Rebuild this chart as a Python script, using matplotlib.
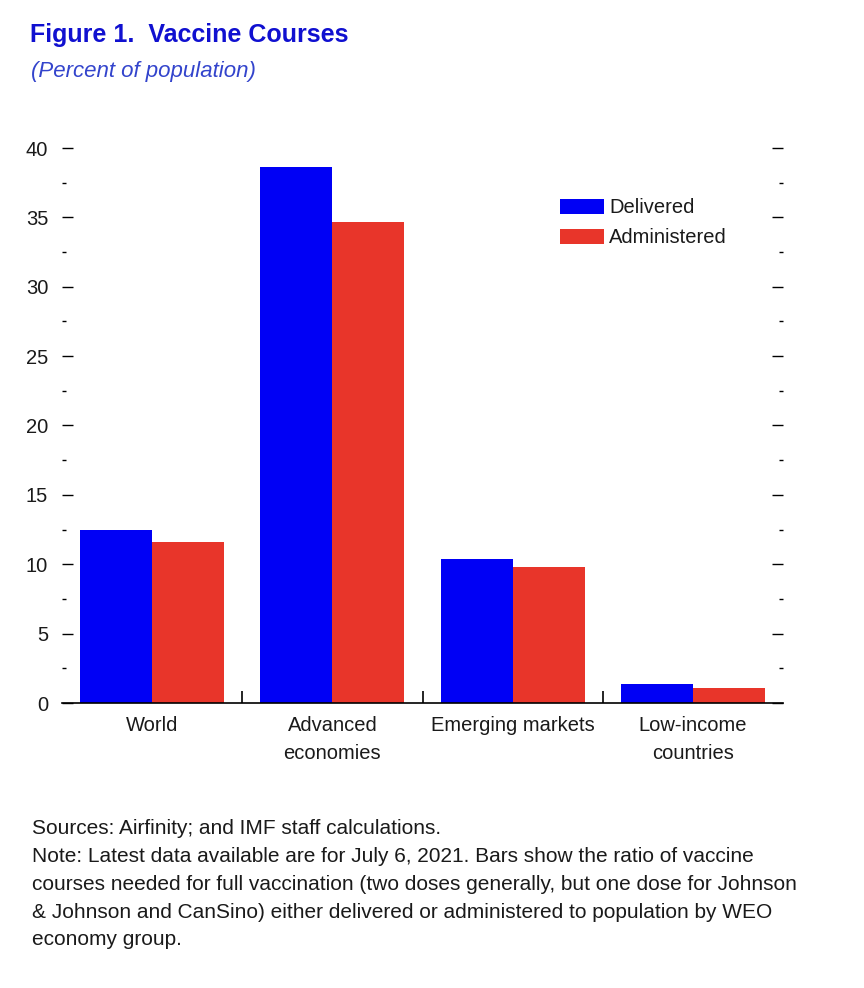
import matplotlib
matplotlib.use("Agg")
import matplotlib.pyplot as plt
import numpy as np
from matplotlib.ticker import MultipleLocator, FixedLocator

categories = ["World", "Advanced\neconomies", "Emerging markets", "Low-income\ncountries"]
delivered = [12.5, 38.6, 10.4, 1.4]
administered = [11.6, 34.7, 9.8, 1.1]
series_names = ["Delivered", "Administered"]
yticks = [0, 5, 10, 15, 20, 25, 30, 35, 40]

FONT = ["Liberation Sans", "DejaVu Sans"]
plt.rcParams["font.family"] = FONT

BLUE = "#0000F5"
RED = "#E8352A"
TXT = "#1a1a1a"

fig = plt.figure(figsize=(8.64, 9.88), dpi=100)
ax = fig.add_axes([62 / 864, 1 - 703 / 988, (783 - 62) / 864, (703 - 148) / 988])

x = np.arange(len(categories))
w = 0.4
ax.bar(x - w / 2, delivered, width=w, color=BLUE, label=series_names[0], zorder=2)
ax.bar(x + w / 2, administered, width=w, color=RED, label=series_names[1], zorder=2)

ax.set_xlim(-0.5, len(categories) - 0.5)
ax.set_ylim(0, 40)

for s in ["top", "left", "right"]:
    ax.spines[s].set_visible(False)
ax.spines["bottom"].set_linewidth(1.2)
ax.spines["bottom"].set_color("black")

ax.yaxis.set_major_locator(FixedLocator(yticks))
ax.yaxis.set_minor_locator(MultipleLocator(2.5))
ax.tick_params(axis="y", which="major", direction="in", length=8, width=1.0,
               left=True, right=True, labelleft=True, labelright=False,
               pad=10, labelsize=14.5, labelcolor=TXT)
ax.tick_params(axis="y", which="minor", direction="in", length=3, width=1.0,
               left=True, right=True)

ax.set_xticks(x)
ax.set_xticklabels(categories, fontsize=14.5, color=TXT, linespacing=1.66)
ax.xaxis.set_minor_locator(FixedLocator(list(np.arange(0.5, len(categories) - 0.5, 1.0))))
ax.tick_params(axis="x", which="major", length=0, pad=9)
ax.tick_params(axis="x", which="minor", direction="in", length=9, width=1.2)

leg = ax.legend(loc="upper left", bbox_to_anchor=(0.68, 0.924), frameon=False,
                fontsize=14.5, handlelength=2.18, handleheight=0.75, handletextpad=0.25,
                labelspacing=0.55, borderaxespad=0)
for t in leg.get_texts():
    t.set_color(TXT)

fig.text(30 / 864, 1 - 35 / 988, "Figure 1.  Vaccine Courses", fontsize=18, fontweight="bold",
         color="#1010D0", va="center", ha="left")
fig.text(31 / 864, 1 - 72 / 988, "(Percent of population)", fontsize=16, fontstyle="italic",
         color="#3344CC", va="center", ha="left")

notes = ("Sources: Airfinity; and IMF staff calculations.\n"
         "Note: Latest data available are for July 6, 2021. Bars show the ratio of vaccine\n"
         "courses needed for full vaccination (two doses generally, but one dose for Johnson\n"
         "& Johnson and CanSino) either delivered or administered to population by WEO\n"
         "economy group.")
fig.text(32 / 864, 1 - 819 / 988, notes, fontsize=15, color=TXT, va="top", ha="left",
         linespacing=1.59)

fig.savefig("out.png", dpi=100)
